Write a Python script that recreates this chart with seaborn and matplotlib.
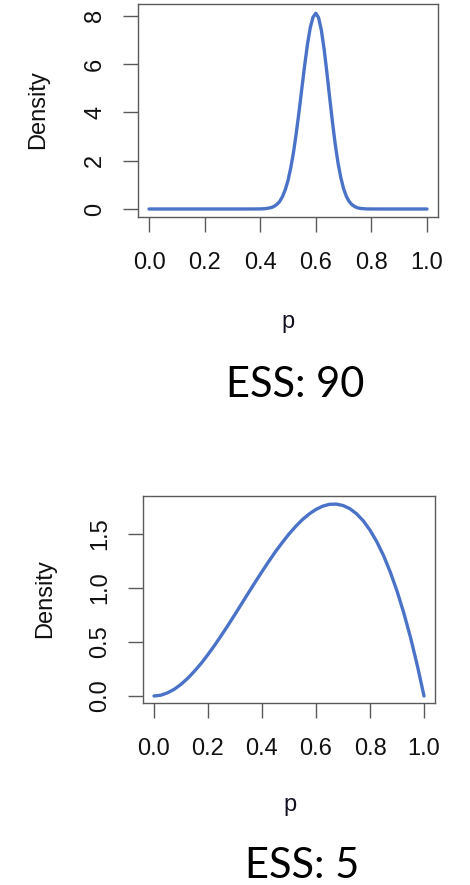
import numpy as np
import pandas as pd
import seaborn as sns
import matplotlib.pyplot as plt

# ---- data ----
p_top = [0.0, 0.1, 0.2, 0.3, 0.36, 0.38, 0.40, 0.42, 0.44, 0.45, 0.46, 0.47, 0.48, 0.49,
         0.50, 0.51, 0.52, 0.53, 0.54, 0.55, 0.56, 0.57, 0.58, 0.59, 0.60,
         0.61, 0.62, 0.63, 0.64, 0.65, 0.66, 0.67, 0.68, 0.69, 0.70,
         0.71, 0.72, 0.73, 0.74, 0.75, 0.76, 0.78, 0.80, 0.85, 0.9, 1.0]
dens_top = [0.0, 0.0, 0.0, 0.0, 0.001, 0.002, 0.004, 0.016, 0.06, 0.11, 0.19, 0.31, 0.51, 0.79,
            1.18, 1.71, 2.36, 3.16, 4.05, 5.01, 5.95, 6.81, 7.50, 7.94, 8.10,
            7.92, 7.40, 6.61, 5.64, 4.60, 3.59, 2.67, 1.90, 1.30, 0.84,
            0.52, 0.31, 0.18, 0.10, 0.05, 0.025, 0.005, 0.001, 0.0, 0.0, 0.0]

p_bot = [0.0, 0.025, 0.05, 0.075, 0.1, 0.125, 0.15, 0.175, 0.2, 0.225, 0.25, 0.275,
         0.3, 0.325, 0.35, 0.375, 0.4, 0.425, 0.45, 0.475, 0.5, 0.525, 0.55, 0.575,
         0.6, 0.625, 0.65, 0.675, 0.7, 0.725, 0.75, 0.775, 0.8, 0.825, 0.85, 0.875,
         0.9, 0.925, 0.95, 0.975, 1.0]
dens_bot = [0.0, 0.007, 0.029, 0.062, 0.108, 0.164, 0.230, 0.303, 0.384, 0.471, 0.563, 0.658,
            0.756, 0.856, 0.956, 1.055, 1.152, 1.246, 1.337, 1.421, 1.500, 1.571, 1.634, 1.686,
            1.728, 1.758, 1.775, 1.777, 1.764, 1.735, 1.688, 1.622, 1.536, 1.429, 1.301, 1.148,
            0.972, 0.770, 0.542, 0.285, 0.0]

x_ticks = [0.0, 0.2, 0.4, 0.6, 0.8, 1.0]
x_ticklabels = ["0.0", "0.2", "0.4", "0.6", "0.8", "1.0"]
y_ticks_top = [0, 2, 4, 6, 8]
y_ticklabels_top = ["0", "2", "4", "6", "8"]
y_ticks_bot = [0.0, 0.5, 1.0, 1.5]
y_ticklabels_bot = ["0.0", "0.5", "1.0", "1.5"]
titles = ["ESS: 90", "ESS: 5"]

# ---- styling ----
sns.set_theme(style="white")
plt.rcParams['font.family'] = ['Liberation Sans', 'DejaVu Sans']

W, H = 470, 885
fig = plt.figure(figsize=(W / 100, H / 100), dpi=100)
fig.patch.set_facecolor("white")

LINE = "#4a73c8"
FRAME = "#5a5a5a"


def axes_px(l, t, r, b):
    return fig.add_axes([l / W, 1 - b / H, (r - l) / W, (b - t) / H])


def style(ax, yt, ytl, xlim, ylim):
    ax.set_xlim(*xlim)
    ax.set_ylim(*ylim)
    ax.set_xticks(x_ticks)
    ax.set_xticklabels(x_ticklabels)
    ax.set_yticks(yt)
    ax.set_yticklabels(ytl)
    ax.tick_params(axis='both', which='major', direction='out', length=11,
                   width=1.0, color=FRAME, labelsize=17, labelcolor='#111111', pad=14,
                   bottom=True, left=True)
    ax.tick_params(axis='y', labelrotation=90, pad=12)
    for lab in ax.get_yticklabels():
        lab.set_va('center')
    for s in ax.spines.values():
        s.set_visible(True)
        s.set_color(FRAME)
        s.set_linewidth(1.0)
    ax.set_xlabel("")
    ax.set_ylabel("")
    ax.set_facecolor("white")


# top panel
ax1 = axes_px(138, 4, 438, 217)
sns.lineplot(x=p_top, y=dens_top, ax=ax1, color=LINE, linewidth=2.4, sort=False)
style(ax1, y_ticks_top, y_ticklabels_top, (-0.0396, 1.0396), (-0.331, 8.484))

# bottom panel
ax2 = axes_px(143, 496, 435, 703)
sns.lineplot(x=p_bot, y=dens_bot, ax=ax2, color=LINE, linewidth=2.4, sort=False)
style(ax2, y_ticks_bot, y_ticklabels_bot, (-0.0407, 1.0407), (-0.065, 1.852))

# axis labels
fig.text(38 / W, 1 - 110 / H, "Density", rotation=90, ha='center', va='center',
         fontsize=17, color='#111111')
fig.text(45 / W, 1 - 599 / H, "Density", rotation=90, ha='center', va='center',
         fontsize=17, color='#111111')
fig.text(288 / W, 1 - 328 / H, "p", ha='center', va='baseline', fontsize=17,
         color='#111122')
fig.text(290 / W, 1 - 811 / H, "p", ha='center', va='baseline', fontsize=17,
         color='#111122')

# big ESS captions
fig.text(295 / W, 1 - 385 / H, titles[0], ha='center', va='center', fontsize=30,
         color='black', family=['Lato', 'DejaVu Sans'])
fig.text(302 / W, 1 - 866 / H, titles[1], ha='center', va='center', fontsize=30,
         color='black', family=['Lato', 'DejaVu Sans'])

fig.savefig("out.png", dpi=100, facecolor="white")
